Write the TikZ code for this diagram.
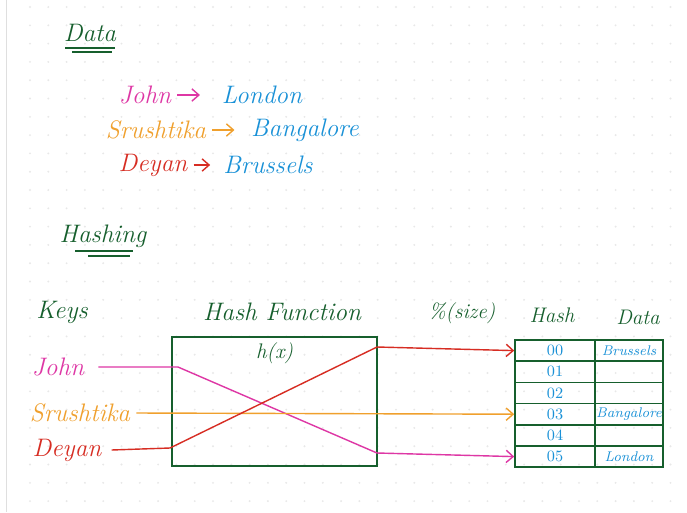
\documentclass[tikz,border=0pt]{standalone}
\usepackage{tikz}
\usetikzlibrary{arrows.meta,positioning}

\definecolor{inkgreen}{RGB}{22,95,45}
\definecolor{inkpink}{RGB}{222,55,165}
\definecolor{inkorange}{RGB}{240,160,45}
\definecolor{inkred}{RGB}{215,45,35}
\definecolor{inkblue}{RGB}{25,145,215}

\tikzset{
  ink/.style={
      font=\Large\itshape,
  },
  heading/.style={
      ink,
      text=inkgreen,
  },
  underline/.style={
      draw=inkgreen,
      line width=0.9pt,
  },
  keyline/.style={
      line width=0.8pt,
      >={Straight Barb[length=4pt,width=7pt]},
  },
  funcbox/.style={
      draw=inkgreen,
      line width=1.1pt,
      minimum width=4.1cm,
      minimum height=2.58cm,
  },
  hashcell/.style={
      draw=inkgreen,
      line width=0.9pt,
      minimum width=1.6cm,
      minimum height=0.424cm,
      inner sep=0pt,
      font=\small,
      text=inkblue,
  },
  datacell/.style={
      hashcell,
      minimum width=1.36cm,
      font=\footnotesize\itshape,
  },
}

\begin{document}
\begin{tikzpicture}[x=0.02cm,y=-0.02cm]
  \useasboundingbox[fill=white] (0,0) rectangle (687,512);
  % dotted paper
  \foreach \i in {0,...,36}
    \foreach \j in {0,...,27}
      \fill[gray!18] (30+18.3*\i,7+18.3*\j) circle (0.6pt);
  \draw[gray!25] (6,0) -- (6,512);

  % data
  \node[heading] (datatitle) at (90,33) {Data};
  \draw[underline] (65,48) -- (115,48);
  \draw[underline] (72,52) -- (112,52);
  \node[ink,text=inkpink] (djohn) at (145,95) {John};
  \node[ink,text=inkblue] (dlondon) at (262,95) {London};
  \node[ink,text=inkorange] (dsrushtika) at (156,130) {Srushtika};
  \node[ink,text=inkblue] (dbangalore) at (305,130) {Bangalore};
  \node[ink,text=inkred] (ddeyan) at (153,165) {Deyan};
  \node[ink,text=inkblue] (dbrussels) at (268,165) {Brussels};
  \draw[keyline,->,inkpink,shorten >=9pt] (djohn) -- (dlondon);
  \draw[keyline,->,inkorange,shorten >=6pt] (dsrushtika) -- (dbangalore);
  \draw[keyline,->,inkred,shorten >=4pt] (ddeyan) -- (dbrussels);

  % hashing
  \node[heading] (hashtitle) at (103,236) {Hashing};
  \draw[underline] (75,251) -- (133,251);
  \draw[underline] (88,256) -- (130,256);

  \node[heading] (keys) at (62,312) {Keys};
  \node[heading] (hftitle) at (282,312) {Hash Function};
  \node[heading,font=\large\itshape] (size) at (462,313) {\%(size)};
  \node[heading,font=\large\itshape] (hashhead) at (552,315) {Hash};
  \node[heading,font=\large\itshape] (datahead) at (638,317) {Data};

  \node[funcbox] (hf) at (274.5,401.5) {};
  \node[heading,font=\large\itshape,below=0pt of hf.north] (hx) {h(x)};

  % table of buckets
  \foreach \i in {0,...,5}{
    \node[hashcell] (h\i) at (555,350.6+21.2*\i) {0\i};
    \node[datacell] (d\i) at (629,350.6+21.2*\i) {};
  }
  \node[datacell,draw=none] at (d0) {Brussels};
  \node[datacell,draw=none] at (d3) {Bangalore};
  \node[datacell,draw=none] at (d5) {London};

  % keys through h(x)
  \node[ink,text=inkpink] (john) at (58,367) {John};
  \node[ink,text=inkorange] (srushtika) at (80,413) {Srushtika};
  \node[ink,text=inkred] (deyan) at (67,450) {Deyan};
  \coordinate (jin) at (178,367);
  \coordinate (jout) at (377,453);
  \coordinate (din) at (170,448);
  \coordinate (dout) at (377,347);
  \draw[keyline,->,inkpink] (john.east) ++(8,0) -- (jin) -- (jout) -- (h5.west);
  \draw[keyline,->,inkorange] (srushtika.east) -- (h3.west);
  \draw[keyline,->,inkred] (deyan.east) ++(4,0) -- (din) -- (dout) -- (h0.west);
\end{tikzpicture}
\end{document}
